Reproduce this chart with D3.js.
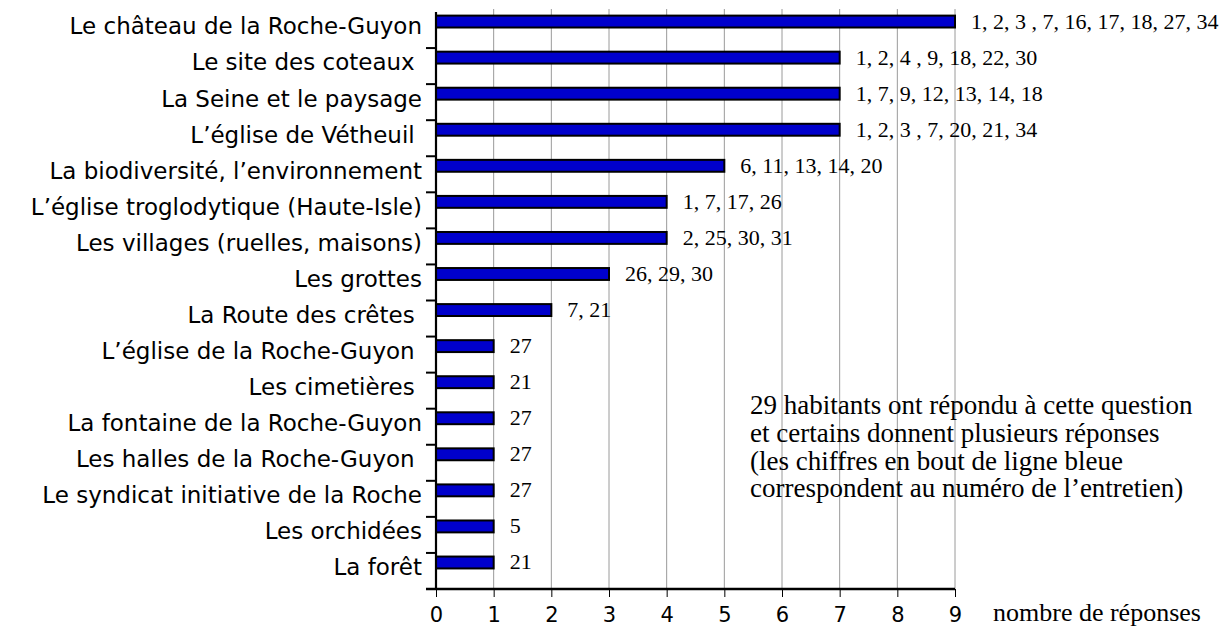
<!DOCTYPE html>
<html lang="fr">
<head>
<meta charset="utf-8">
<script src="https://cdn.jsdelivr.net/npm/d3@7"></script>
<style>
  html, body { margin: 0; padding: 0; background: #fff; }
  svg { display: block; }
  .cat { font-family: "DejaVu Sans", Verdana, sans-serif; font-size: 23px; fill: #000; white-space: pre; }
  .tick-label { font-family: "DejaVu Sans", Verdana, sans-serif; font-size: 21px; fill: #000; }
  .serif { font-family: "Liberation Serif", "Times New Roman", serif; fill: #000; }
</style>
</head>
<body>
<svg id="chart" width="1227" height="635"></svg>
<script>
// Lieux cités par les habitants et numéros des entretiens correspondants
const categories = [
  "Le château de la Roche-Guyon",
  "Le site des coteaux ",
  "La Seine et le paysage",
  "L’église de Vétheuil ",
  "La biodiversité, l’environnement",
  "L’église troglodytique (Haute-Isle)",
  "Les villages (ruelles, maisons)",
  "Les grottes",
  "La Route des crêtes ",
  "L’église de la Roche-Guyon ",
  "Les cimetières ",
  "La fontaine de la Roche-Guyon",
  "Les halles de la Roche-Guyon ",
  "Le syndicat initiative de la Roche",
  "Les orchidées",
  "La forêt"
];
const responses = [9, 7, 7, 7, 5, 4, 4, 3, 2, 1, 1, 1, 1, 1, 1, 1];
const interviewNumbers = [
  "1, 2, 3 , 7, 16, 17, 18, 27, 34",
  "1, 2, 4 , 9, 18, 22, 30",
  "1, 7, 9, 12, 13, 14, 18",
  "1, 2, 3 , 7, 20, 21, 34",
  "6, 11, 13, 14, 20",
  "1, 7, 17, 26",
  "2, 25, 30, 31",
  "26, 29, 30",
  "7, 21",
  "27",
  "21",
  "27",
  "27",
  "27",
  "5",
  "21"
];
const xTicks = [0, 1, 2, 3, 4, 5, 6, 7, 8, 9];
const axisTitle = "nombre de réponses";
const noteLines = [
  "29 habitants ont répondu à cette question",
  "et certains donnent plusieurs réponses",
  "(les chiffres en bout de ligne bleue",
  "correspondent au numéro de l’entretien)"
];

const svg = d3.select("#chart");
const plot = { left: 436, right: 955, top: 12, bottom: 589 };

const x = d3.scaleLinear().domain([0, 9]).range([plot.left, plot.right]);
const y = d3.scaleBand().domain(categories).range([plot.top, plot.bottom]).padding(0);
const bw = y.bandwidth();

// Vertical grid lines
svg.append("g")
  .selectAll("line")
  .data(xTicks.filter(d => d > 0))
  .join("line")
  .attr("x1", d => x(d)).attr("x2", d => x(d))
  .attr("y1", plot.top - 3).attr("y2", plot.bottom)
  .attr("stroke", "#9a9a9a")
  .attr("stroke-width", 1);

// Bars
svg.append("g")
  .selectAll("rect")
  .data(categories)
  .join("rect")
  .attr("x", x(0))
  .attr("y", d => y(d) + bw * 0.1)
  .attr("width", (d, i) => x(responses[i]) - x(0))
  .attr("height", bw * 0.33)
  .attr("fill", "#0000cc")
  .attr("stroke", "#000")
  .attr("stroke-width", 2);

// Interview numbers at the end of each bar
svg.append("g")
  .selectAll("text")
  .data(categories)
  .join("text")
  .attr("class", "serif")
  .attr("x", (d, i) => x(responses[i]) + 16)
  .attr("y", d => y(d) + bw * 0.1 + bw * 0.15)
  .attr("dominant-baseline", "central")
  .style("font-size", "22px")
  .text((d, i) => interviewNumbers[i]);

// Category axis: line, ticks at band boundaries, labels
const yAxis = svg.append("g");
yAxis.append("line")
  .attr("x1", plot.left).attr("x2", plot.left)
  .attr("y1", plot.top).attr("y2", plot.bottom)
  .attr("stroke", "#000").attr("stroke-width", 2.2);
yAxis.selectAll("line.tk")
  .data(categories.slice(1))
  .join("line")
  .attr("class", "tk")
  .attr("x1", plot.left - 10).attr("x2", plot.left)
  .attr("y1", d => y(d)).attr("y2", d => y(d))
  .attr("stroke", "#000").attr("stroke-width", 2);
yAxis.selectAll("text")
  .data(categories)
  .join("text")
  .attr("class", "cat")
  .attr("x", plot.left - 14)
  .attr("y", d => y(d) + bw * 0.4)
  .attr("text-anchor", "end")
  .attr("dominant-baseline", "central")
  .text(d => d);

// Value axis
const xAxis = svg.append("g")
  .attr("transform", `translate(0,${plot.bottom})`)
  .call(d3.axisBottom(x).tickValues(xTicks).tickSize(8).tickPadding(10).tickFormat(d3.format("d")));
xAxis.select(".domain").remove();
xAxis.selectAll(".tick line").attr("stroke", "#000").attr("stroke-width", 1);
xAxis.selectAll(".tick text")
  .attr("class", "tick-label")
  .attr("font-family", null).attr("font-size", null);
xAxis.append("line")
  .attr("x1", plot.left - 10).attr("x2", plot.right)
  .attr("y1", 0).attr("y2", 0)
  .attr("stroke", "#000").attr("stroke-width", 2.5);

svg.append("text")
  .attr("class", "serif")
  .attr("x", 993).attr("y", 621)
  .style("font-size", "26px")
  .text(axisTitle);

// Explanatory note
svg.append("text")
  .attr("class", "serif")
  .style("font-size", "27px")
  .selectAll("tspan")
  .data(noteLines)
  .join("tspan")
  .attr("x", 750)
  .attr("y", (d, i) => 414 + i * 27.8)
  .text(d => d);
</script>
</body>
</html>
